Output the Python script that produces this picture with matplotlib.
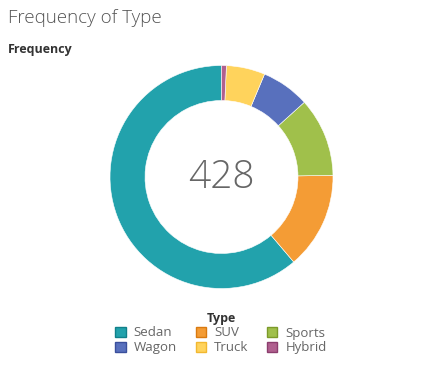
import matplotlib
matplotlib.use('Agg')
import matplotlib.pyplot as plt
from matplotlib.patches import Patch

types = ['Sedan', 'SUV', 'Sports', 'Wagon', 'Truck', 'Hybrid']
counts = [262, 60, 49, 30, 24, 3]
colors = ['#22a2ac', '#f49c35', '#a0c04b', '#5870bd', '#ffd35c', '#b0608f']
edges = ['#11808a', '#d97a10', '#7c9a2a', '#3a4f9c', '#f2b830', '#8c3e6e']

plt.rcParams['font.family'] = ['Open Sans', 'DejaVu Sans']

fig = plt.figure(figsize=(4.24, 3.78), dpi=100)
ax = fig.add_axes([0, 0, 1, 1])

# donut
ax.pie(counts, colors=colors, startangle=90, counterclock=True,
       radius=111.5, center=(221.5, 378 - 177),
       wedgeprops=dict(width=35, linewidth=0.4, edgecolor='white'),
       frame=True)
ax.set_xlim(0, 424)
ax.set_ylim(0, 378)
ax.set_aspect('equal')
ax.axis('off')

ax.text(221.5, 378 - 178, str(sum(counts)), ha='center', va='center',
        fontsize=28, color='#666666', fontweight='light')

fig.text(8 / 424, 1 - 18 / 378, 'Frequency of Type', ha='left', va='center',
         fontsize=13.5, color='#555555', fontweight='light')
fig.text(8 / 424, 1 - 50 / 378, 'Frequency', ha='left', va='center',
         fontsize=9, color='#333333', fontweight='bold')

# legend, row-major like the original (matplotlib fills columns first)
order = [0, 3, 1, 4, 2, 5]
handles = [Patch(facecolor=colors[i], edgecolor=edges[i], linewidth=1, label=types[i])
           for i in order]
leg = fig.legend(handles=handles, ncol=3, loc='center',
                 bbox_to_anchor=(221 / 424, 1 - 333 / 378),
                 frameon=False, title='Type', fontsize=9.5,
                 handlelength=0.8, handleheight=0.8, handletextpad=0.6,
                 columnspacing=1.4, labelspacing=0.15, borderpad=0)
leg.get_title().set_fontweight('bold')
leg.get_title().set_fontsize(9)
leg.get_title().set_color('#333333')
for t in leg.get_texts():
    t.set_color('#666666')

fig.savefig('out.png', dpi=100)
